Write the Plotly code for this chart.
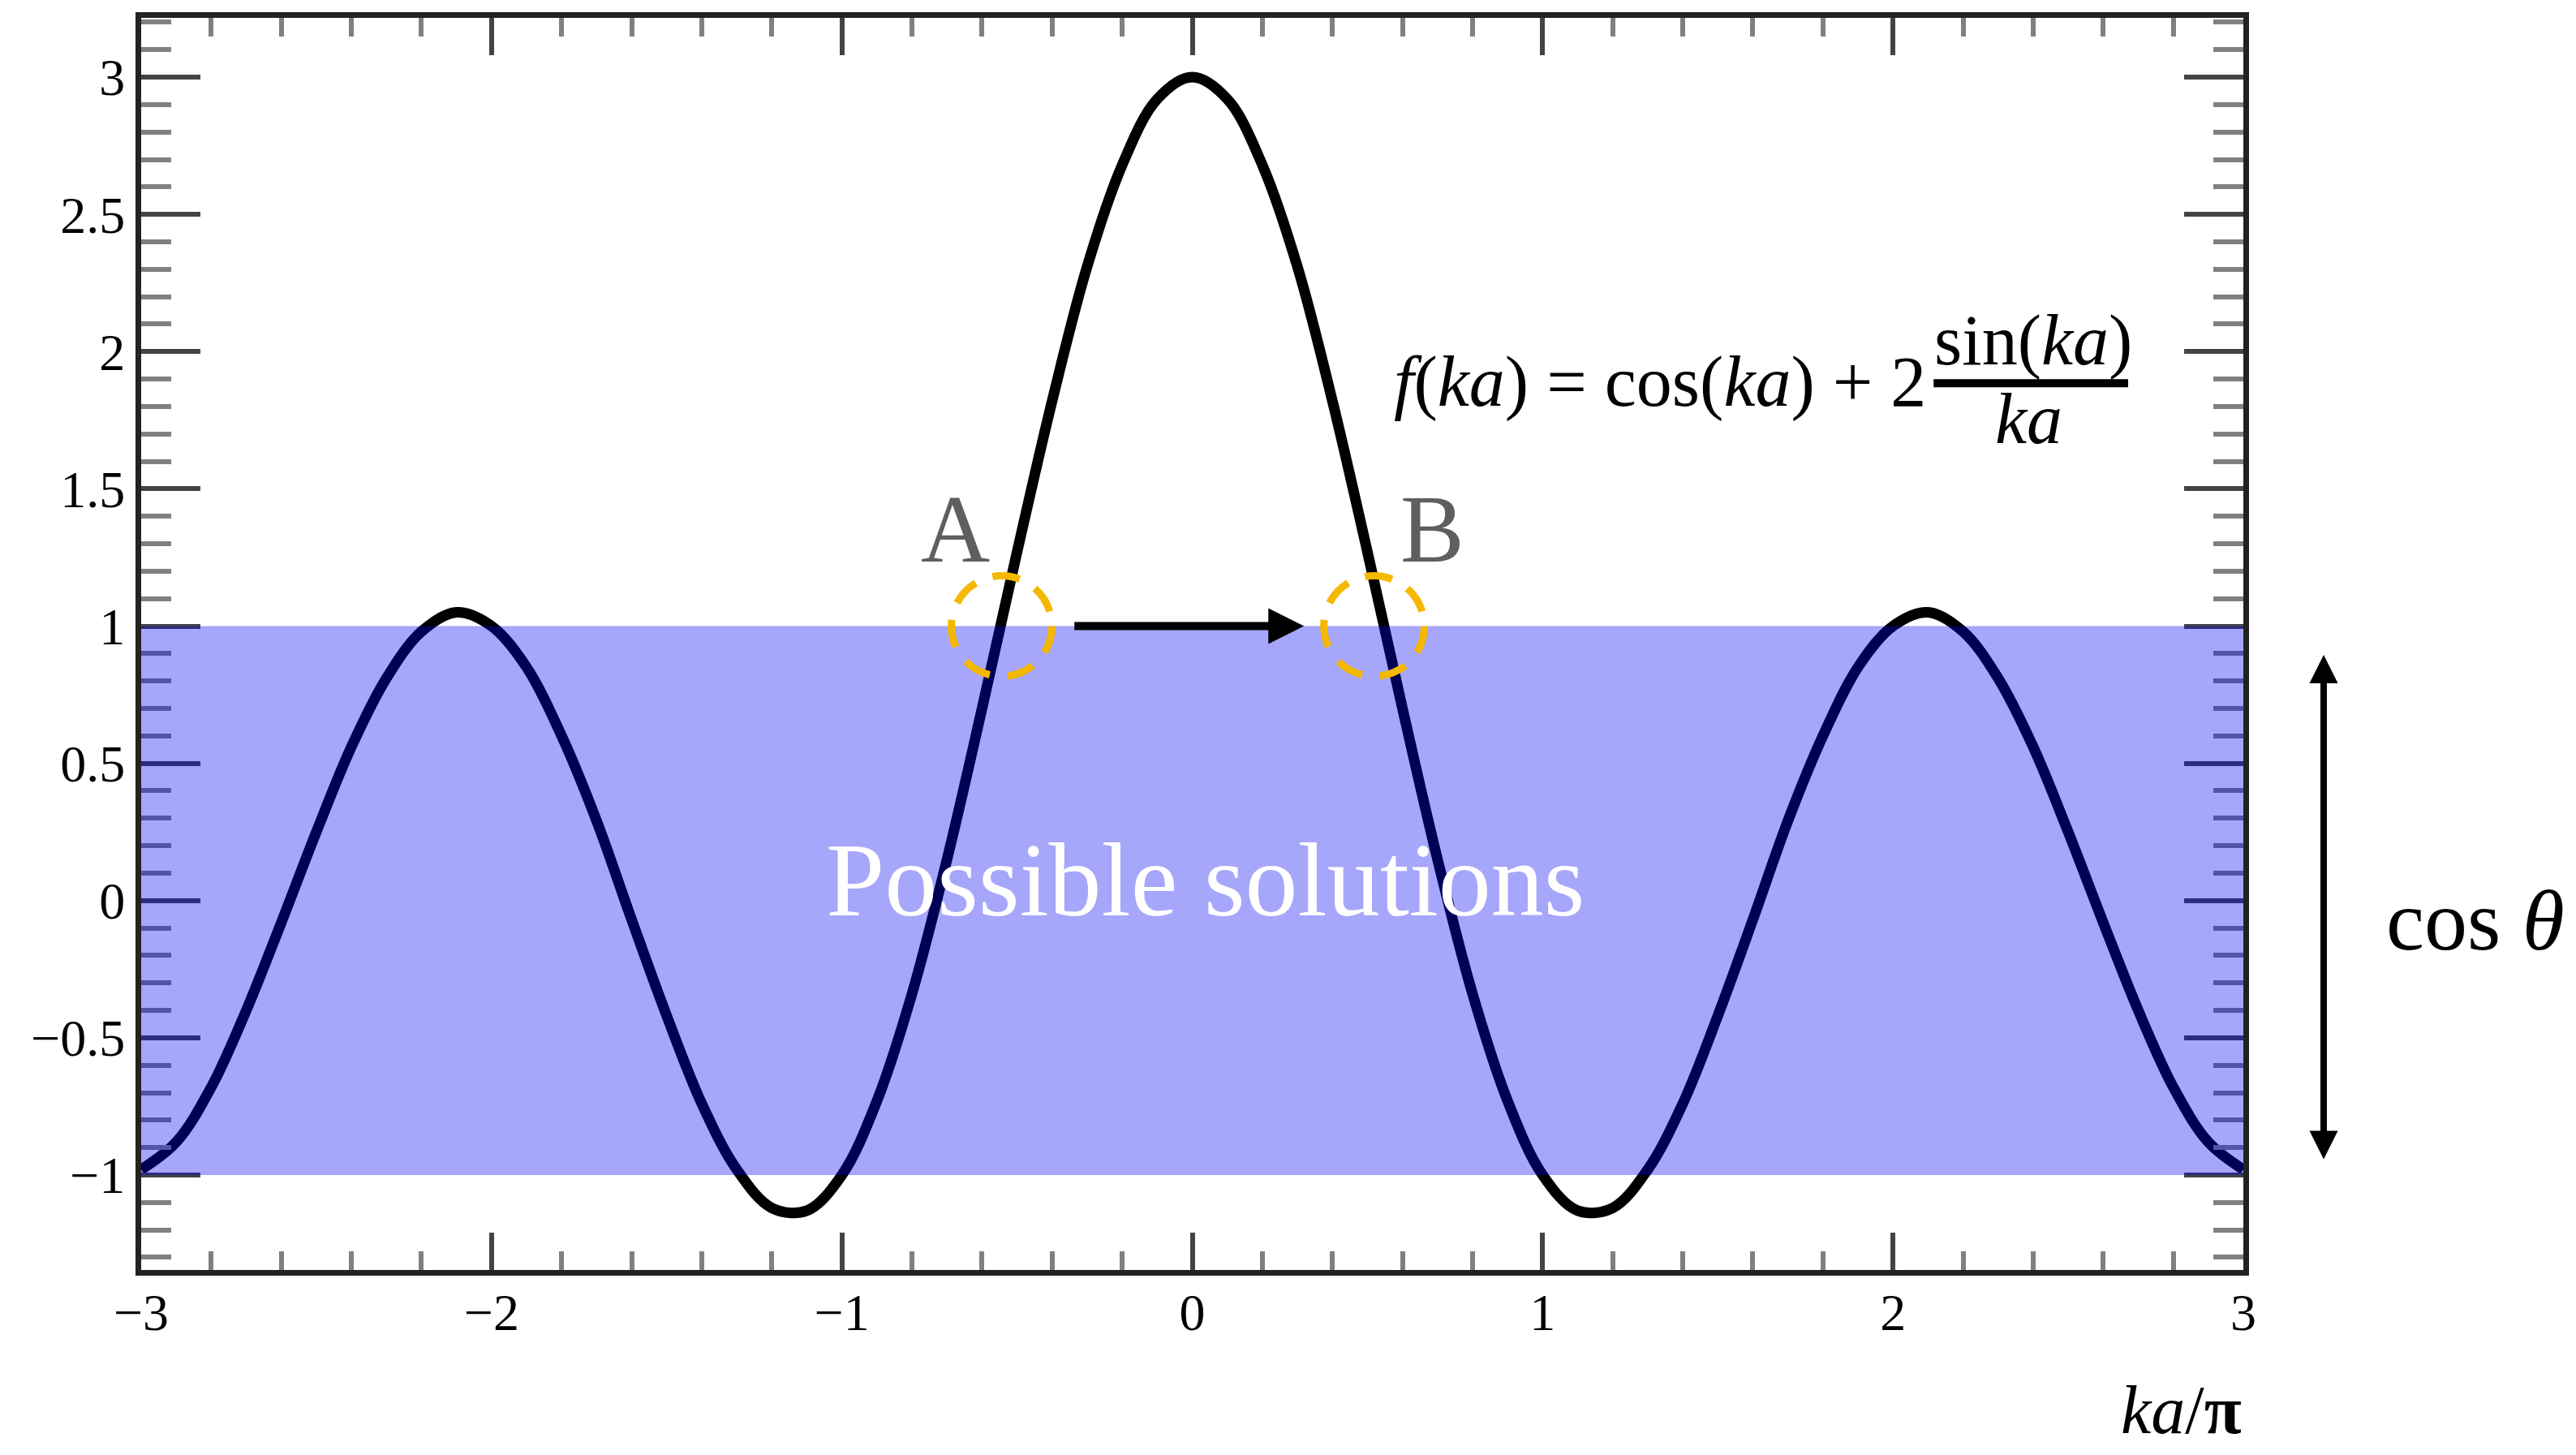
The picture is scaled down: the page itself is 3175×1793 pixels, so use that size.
import plotly.graph_objects as go

# Sampled dispersion function f(ka) = cos(ka) + 2 sin(ka)/ka, x in units of ka/pi
ka_over_pi = [
    -3.0, -2.9, -2.8, -2.7, -2.6, -2.5, -2.4, -2.3, -2.2, -2.1,
    -2.0, -1.9, -1.8, -1.7, -1.6, -1.5, -1.4, -1.3, -1.2, -1.1,
    -1.0, -0.9, -0.8, -0.7, -0.6, -0.5, -0.4, -0.3, -0.2, -0.1,
    0.0,
    0.1, 0.2, 0.3, 0.4, 0.5, 0.6, 0.7, 0.8, 0.9, 1.0,
    1.1, 1.2, 1.3, 1.4, 1.5, 1.6, 1.7, 1.8, 1.9, 2.0,
    2.1, 2.2, 2.3, 2.4, 2.5, 2.6, 2.7, 2.8, 2.9, 3.0,
]
f_ka = [
    -0.98, -0.88, -0.68, -0.40, -0.08, 0.25, 0.56, 0.81, 0.98, 1.05,
    1.00, 0.85, 0.60, 0.29, -0.07, -0.42, -0.74, -0.98, -1.12, -1.13,
    -1.00, -0.73, -0.34, 0.15, 0.70, 1.27, 1.82, 2.31, 2.68, 2.92,
    3.00,
    2.92, 2.68, 2.31, 1.82, 1.27, 0.70, 0.15, -0.34, -0.73, -1.00,
    -1.13, -1.12, -0.98, -0.74, -0.42, -0.07, 0.29, 0.60, 0.85, 1.00,
    1.05, 0.98, 0.81, 0.56, 0.25, -0.08, -0.40, -0.68, -0.88, -0.98,
]

x_tick_vals = [-3, -2, -1, 0, 1, 2, 3]
x_tick_text = ["−3", "−2", "−1", "0", "1", "2", "3"]
y_tick_vals = [-1, -0.5, 0, 0.5, 1, 1.5, 2, 2.5, 3]
y_tick_text = ["−1", "−0.5", "0", "0.5", "1", "1.5", "2", "2.5", "3"]

# allowed range of cos(theta)
band_low, band_high = -1.0, 1.0
# crossings of f(ka) with the top of the band
point_a = (-0.544, 1.0)
point_b = (0.519, 1.0)

SERIF = "Liberation Serif"
GOLD = "#F5B800"

fig = go.Figure()

fig.add_trace(go.Scatter(
    x=ka_over_pi, y=f_ka, mode="lines",
    line=dict(color="black", width=13, shape="spline"),
    showlegend=False, hoverinfo="skip",
))

axis_common = dict(
    showline=True, linewidth=7, linecolor="#222222", mirror="allticks",
    ticks="inside", tickwidth=6, tickcolor="#444444",
    showgrid=False, zeroline=False,
    tickfont=dict(family=SERIF, size=64, color="black"),
)

fig.update_xaxes(
    range=[-3, 3], tickmode="array", tickvals=x_tick_vals, ticktext=x_tick_text,
    ticklen=46, ticklabelstandoff=-10,
    minor=dict(tickmode="linear", tick0=0, dtick=0.2, ticks="inside", ticklen=23,
               tickwidth=6, tickcolor="#808080", showgrid=False),
    **axis_common,
)
fig.update_yaxes(
    range=[-1.346, 3.216], tickmode="array", tickvals=y_tick_vals, ticktext=y_tick_text,
    ticklen=73, ticklabelstandoff=0,
    minor=dict(tickmode="linear", tick0=0, dtick=0.1, ticks="inside", ticklen=37,
               tickwidth=6, tickcolor="#808080", showgrid=False),
    **axis_common,
)

shapes = [
    # shaded band of possible solutions, drawn over the curve
    dict(type="rect", xref="x", yref="y", x0=-3, x1=3, y0=band_low, y1=band_high,
         fillcolor="rgba(0,0,240,0.35)", line=dict(width=0), layer="above"),
]
rx, ry = 0.1435, 0.183
for cx, cy in (point_a, point_b):
    shapes.append(dict(
        type="circle", xref="x", yref="y",
        x0=cx - rx, x1=cx + rx, y0=cy - ry, y1=cy + ry,
        line=dict(color=GOLD, width=9, dash="34px,22px"),
        fillcolor="rgba(0,0,0,0)", layer="above",
    ))
# fraction bar of the formula
shapes.append(dict(type="line", xref="x", yref="y", x0=2.116, x1=2.671, y0=1.885, y1=1.885,
                   line=dict(color="black", width=10), layer="above"))

annotations = [
    dict(x=0.037, y=0.077, xref="x", yref="y", text="Possible solutions", showarrow=False,
         font=dict(family=SERIF, size=130, color="white"), xanchor="center", yanchor="middle"),
    dict(x=-0.676, y=1.352, xref="x", yref="y", text="A", showarrow=False,
         font=dict(family=SERIF, size=118, color="#5f5f5f"), xanchor="center", yanchor="middle"),
    dict(x=0.685, y=1.352, xref="x", yref="y", text="B", showarrow=False,
         font=dict(family=SERIF, size=118, color="#5f5f5f"), xanchor="center", yanchor="middle"),
    # arrow from A to B
    dict(x=0.319, y=1.0, ax=-0.340, ay=1.0, xref="x", yref="y", axref="x", ayref="y",
         text="", showarrow=True, arrowhead=2, arrowwidth=10, arrowsize=0.88,
         arrowcolor="black"),
    # cos(theta) range indicator, right of the frame
    dict(x=1.0382, y=0.4912, xref="paper", yref="paper", ax=0, ay=623,
         axref="pixel", ayref="pixel",
         text="", showarrow=True, arrowhead=2, startarrowhead=2, arrowside="end+start",
         arrowwidth=8, arrowsize=0.875, startarrowsize=0.875, arrowcolor="black"),
    dict(x=1.1104, y=0.2787, xref="paper", yref="paper", text="cos <i>θ</i>", showarrow=False,
         font=dict(family=SERIF, size=106, color="black"), xanchor="center", yanchor="middle"),
    # formula
    dict(x=2.10, y=1.89, xref="x", yref="y",
         text="<i>f</i>(<i>ka</i>) = cos(<i>ka</i>) + 2", showarrow=False,
         font=dict(family=SERIF, size=88, color="black"), xanchor="right", yanchor="middle"),
    dict(x=2.40, y=2.04, xref="x", yref="y", text="sin(<i>ka</i>)", showarrow=False,
         font=dict(family=SERIF, size=88, color="black"), xanchor="center", yanchor="middle"),
    dict(x=2.387, y=1.755, xref="x", yref="y", text="<i>ka</i>", showarrow=False,
         font=dict(family=SERIF, size=88, color="black"), xanchor="center", yanchor="middle"),
    # x-axis title
    dict(x=1.0, y=-0.112, xref="paper", yref="paper", text="<i>ka</i>/<b>π</b>",
         showarrow=False, font=dict(family=SERIF, size=84, color="black"),
         xanchor="right", yanchor="middle"),
]

fig.update_layout(
    width=3175, height=1793,
    margin=dict(l=174, r=410, t=22, b=228, pad=0),
    paper_bgcolor="white", plot_bgcolor="white",
    shapes=shapes, annotations=annotations,
    showlegend=False,
)

fig.write_html("out.html")
